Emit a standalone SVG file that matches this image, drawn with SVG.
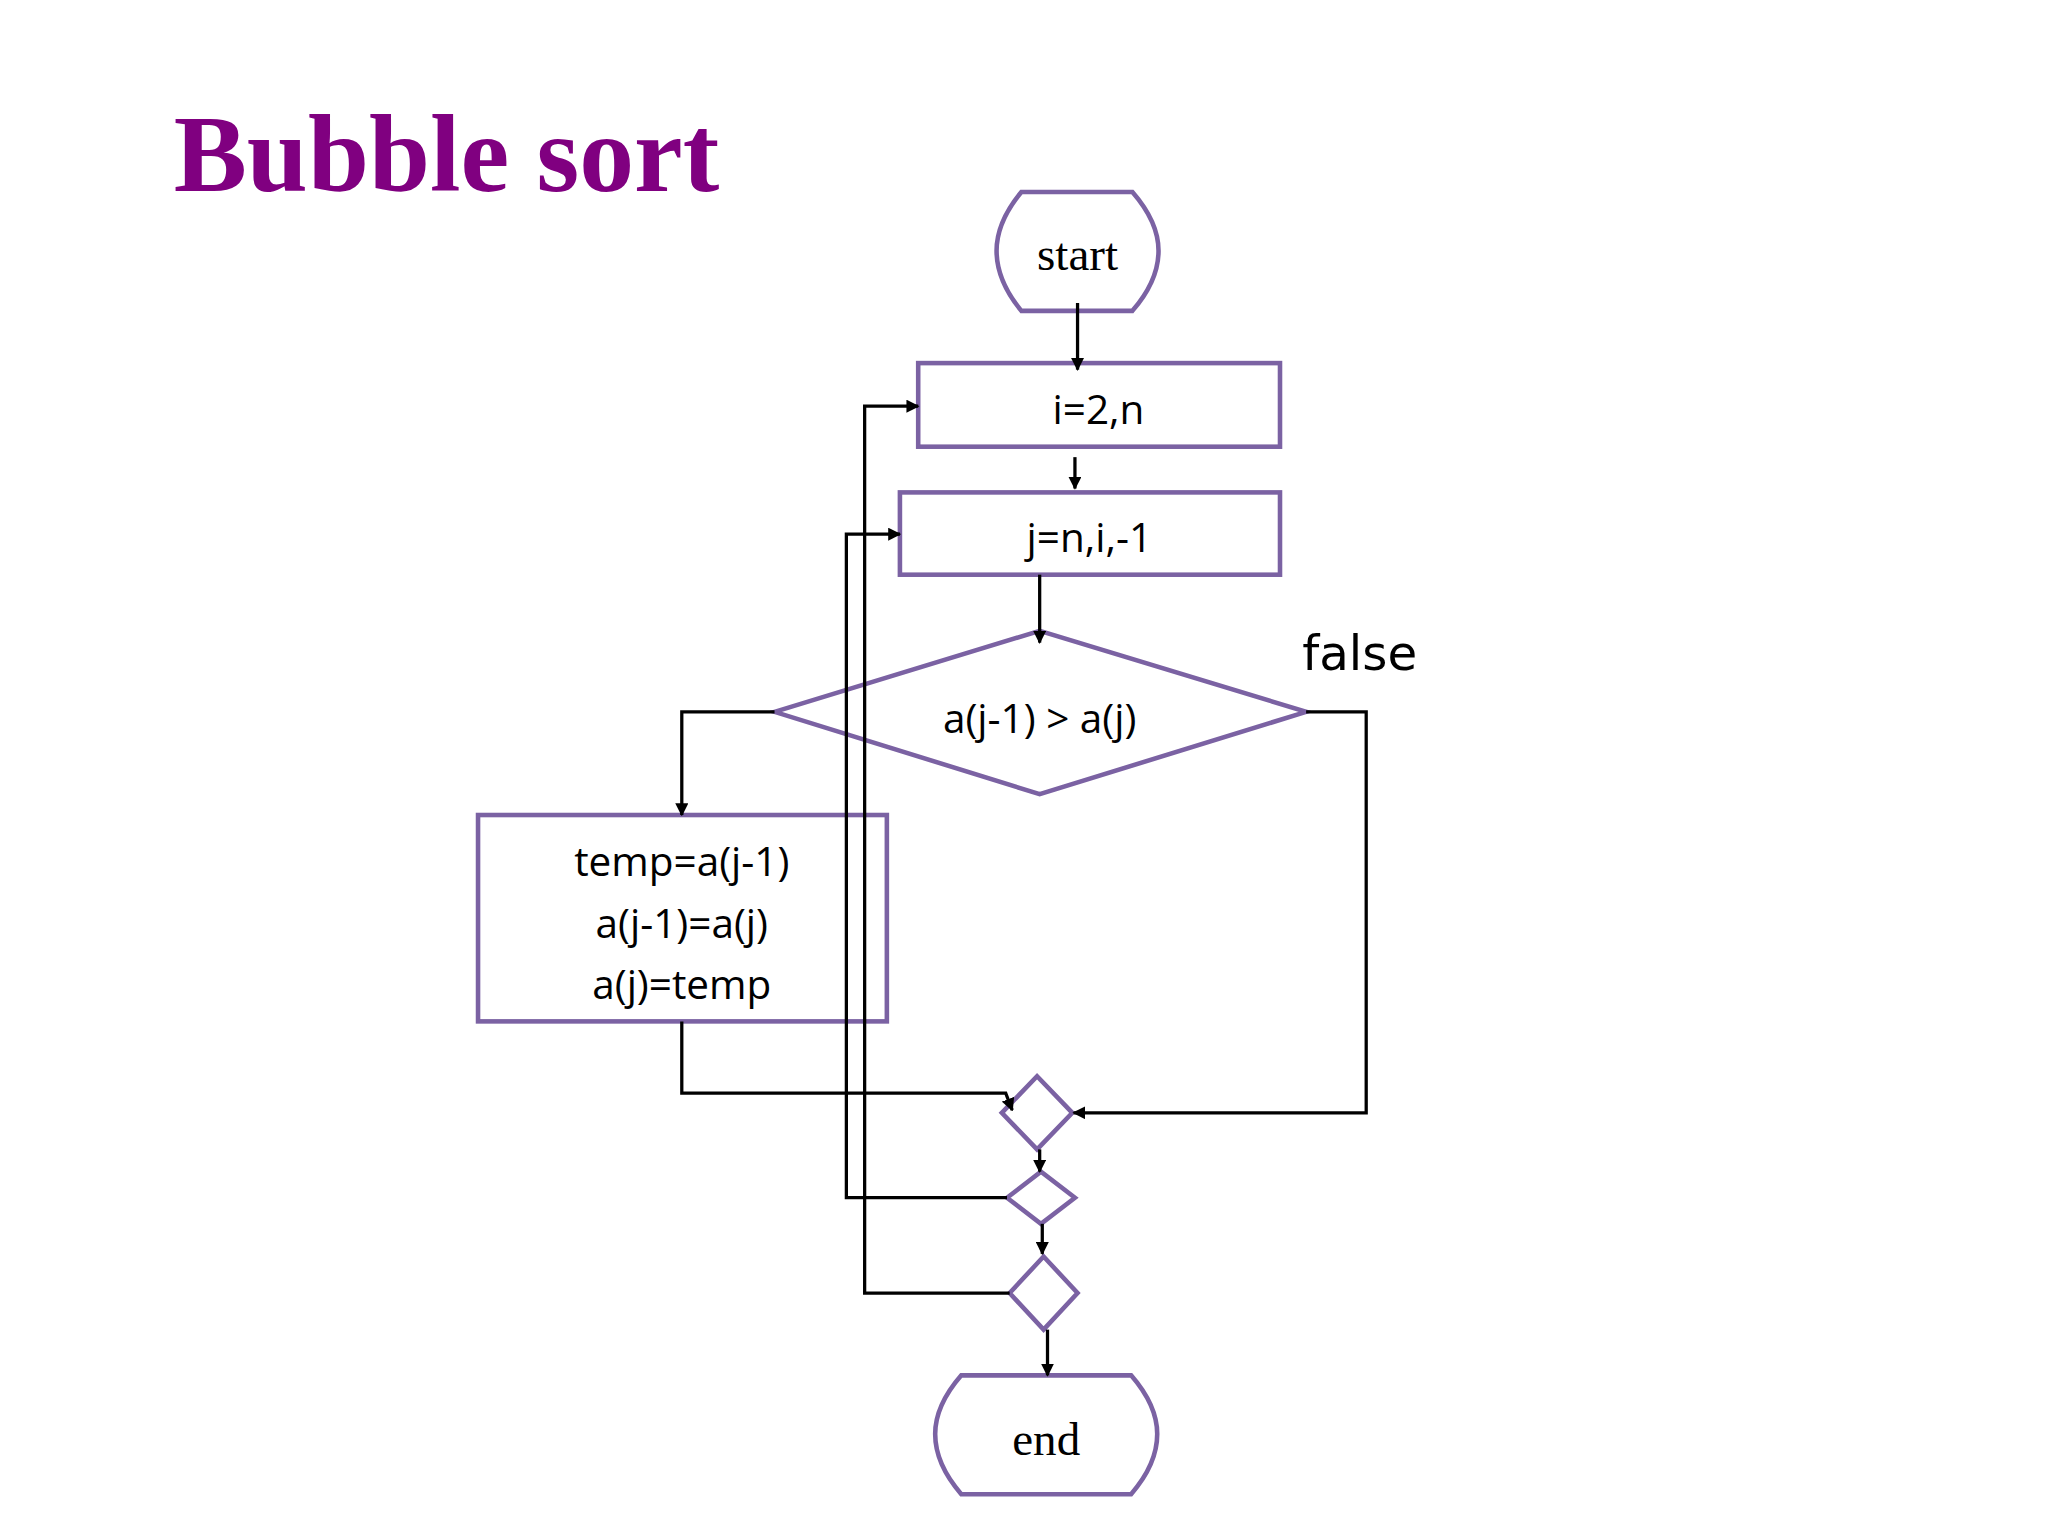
<svg xmlns="http://www.w3.org/2000/svg" width="2048" height="1536" viewBox="0 0 2048 1536">
<style>
.s{fill:#fff;stroke:#7b62a3;stroke-width:3.5}
.c{fill:none;stroke:#000;stroke-width:2.5}
.t{font-family:"Open Sans","Noto Sans",sans-serif;font-size:31px;text-anchor:middle;fill:#000}
.r{font-family:"Liberation Serif",serif;font-size:36px;text-anchor:middle;fill:#000}
</style>
<defs><marker id="a" markerWidth="10" markerHeight="10" refX="9" refY="5" orient="auto" markerUnits="userSpaceOnUse"><path d="M0,0L10,5L0,10z" fill="#000"/></marker></defs>
<rect width="2048" height="1536" fill="#fff"/>
<g transform="scale(1.30612)">
<text x="133" y="146" font-family="Liberation Serif,serif" font-weight="bold" font-size="84" fill="#800080">Bubble sort</text>
<g id="start"><path class="s" d="M782,147H867Q887,170 887,192Q887,215 867,238H782Q763,215 763,192Q763,170 782,147Z"/><text class="r" x="825" y="207">start</text></g>
<g id="i"><rect class="s" x="703" y="278" width="277" height="64"/><text class="t" x="841" y="325">i=2,n</text></g>
<g id="j"><rect class="s" x="689" y="377" width="291" height="63"/><text class="t" x="834" y="423">j=n,i,-1</text></g>
<g id="cond"><polygon class="s" points="593,545 796,483 1000,545 796,608"/><text class="t" x="796" y="561">a(j-1) &gt; a(j)</text></g>
<g id="swap"><rect class="s" x="366" y="624" width="313" height="158"/><text class="t" x="522" y="671">temp=a(j-1)</text><text class="t" x="522" y="718">a(j-1)=a(j)</text><text class="t" x="522" y="765">a(j)=temp</text></g>
<g id="d1"><polygon class="s" points="767,852 794,824 821,852 794,880"/></g>
<g id="d2"><polygon class="s" points="771,917 797,897 823,917 797,937"/></g>
<g id="d3"><polygon class="s" points="773,990 799,962 825,990 799,1018"/></g>
<g id="end"><path class="s" d="M736,1053H866Q886,1076 886,1098Q886,1121 866,1144H736Q716,1121 716,1098Q716,1076 736,1053Z"/><text class="r" x="801" y="1114">end</text></g>
<text x="1041" y="513" font-family="DejaVu Sans,sans-serif" font-size="37" text-anchor="middle">false</text>
<g id="connectors">
<path class="c" d="M825,232V283" marker-end="url(#a)"/>
<path class="c" d="M823,350V374" marker-end="url(#a)"/>
<path class="c" d="M796,440V492" marker-end="url(#a)"/>
<path class="c" d="M593,545H522V624" marker-end="url(#a)"/>
<path class="c" d="M1000,545H1046V852H822" marker-end="url(#a)"/>
<path class="c" d="M522,782V837H770L775,850" marker-end="url(#a)"/>
<path class="c" d="M796,880V897" marker-end="url(#a)"/>
<path class="c" d="M771,917H648V409H689" marker-end="url(#a)"/>
<path class="c" d="M798,937V960" marker-end="url(#a)"/>
<path class="c" d="M773,990H662V311H703" marker-end="url(#a)"/>
<path class="c" d="M802,1018V1053" marker-end="url(#a)"/>
</g>
</g>
</svg>
